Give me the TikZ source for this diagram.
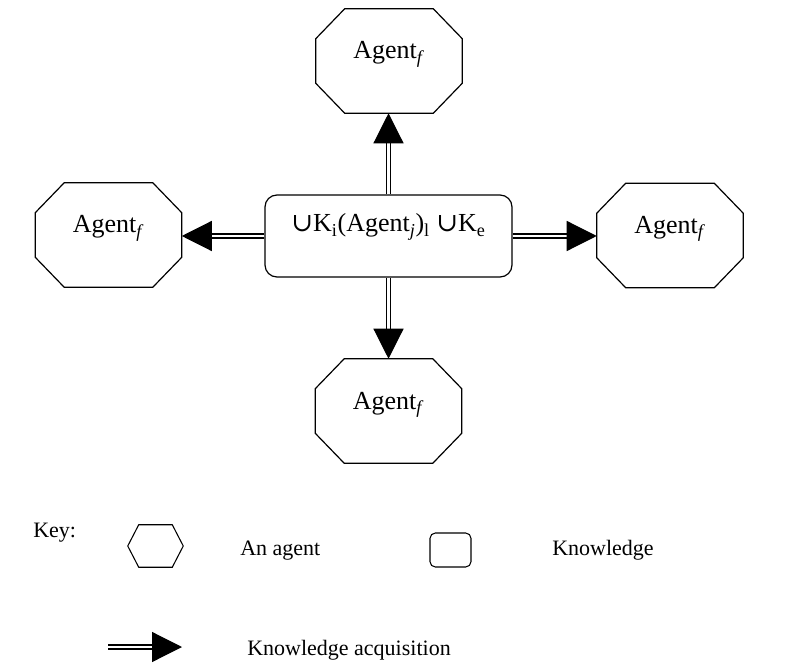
\documentclass[tikz,border=0pt]{standalone}
\usepackage{fontspec}
\setmainfont{Liberation Serif}
\newfontfamily\symfam{DejaVu Serif}
\usetikzlibrary{arrows.meta,calc}

\tikzset{
  agent/.style={minimum width=109.5pt, minimum height=78pt, inner sep=0pt, draw=none},
  agenttext/.style={anchor=base, inner sep=0pt, font=\fontsize{19.5}{23}\selectfont},
  knowbox/.style={draw, rounded corners=9pt, line width=0.9pt, minimum width=185.25pt,
    minimum height=61.5pt, inner sep=0pt},
  octline/.style={line width=0.9pt, line join=miter},
  acq/.style={double, double distance=2pt, line width=0.9pt,
    -{Triangle[length=22.5pt,width=22.5pt]}},
  keytext/.style={anchor=base west, inner sep=0pt, font=\fontsize{16.5}{20}\selectfont},
}

\begin{document}
\begin{tikzpicture}[x=0.75pt,y=-0.75pt]
\useasboundingbox (0,0) rectangle (788,666);

% central knowledge box
\node[knowbox] (kn) at (388.5,236) {};
\node[agenttext] (knt) at ($(kn.center)+(0,-4)$)
  {{\symfam ∪}K\textsubscript{i}(Agent\textsubscript{\textit{j}})\textsubscript{l} {\symfam ∪}K\textsubscript{e}};

% agents
\node[agent] (agT) at (389,61) {};
\node[agent] (agL) at (108.5,235) {};
\node[agent] (agR) at (670,235.5) {};
\node[agent] (agB) at (388.5,411) {};
\foreach \n in {agT,agL,agR,agB}{
  \draw[octline] ($(\n.north west)+(29,0)$) -- ($(\n.north east)+(-29,0)$)
    -- ($(\n.north east)+(0,30)$) -- ($(\n.south east)+(0,-30)$)
    -- ($(\n.south east)+(-29,0)$) -- ($(\n.south west)+(29,0)$)
    -- ($(\n.south west)+(0,-30)$) -- ($(\n.north west)+(0,30)$) -- cycle;
  \node[agenttext] (\n t) at ($(\n.center)+(0,-2)$) {Agent\textsubscript{\textit{f}}};
}

% knowledge acquisition arrows
\draw[acq] (kn.north) -- (kn.north |- agT.south);
\draw[acq] (kn.west) -- (kn.west -| agL.east);
\draw[acq] (kn.east) -- (kn.east -| agR.west);
\draw[acq] (kn.south) -- (kn.south |- agB.north);

% key
\node[keytext] (key) at (33,537) {Key:};
\node[minimum width=41.25pt, minimum height=31.5pt, inner sep=0pt] (khex) at (155.5,546) {};
\draw[line width=0.8pt] ($(khex.north west)+(11,0)$) -- ($(khex.north east)+(-11,0)$)
  -- (khex.east) -- ($(khex.south east)+(-11,0)$) -- ($(khex.south west)+(11,0)$)
  -- (khex.west) -- cycle;
\node[keytext] (kagent) at (240,555) {An agent};
\node[draw, line width=0.8pt, rounded corners=4pt, minimum width=30.75pt,
  minimum height=25.5pt, inner sep=0pt] (kbox) at (450.5,550) {};
\node[keytext] (kknow) at (552,555) {Knowledge};
\coordinate (ka) at (108,647);
\coordinate (kb) at (182,647);
\draw[acq] (ka) -- (kb);
\node[keytext] (kacq) at (247,655) {Knowledge acquisition};
\end{tikzpicture}
\end{document}
